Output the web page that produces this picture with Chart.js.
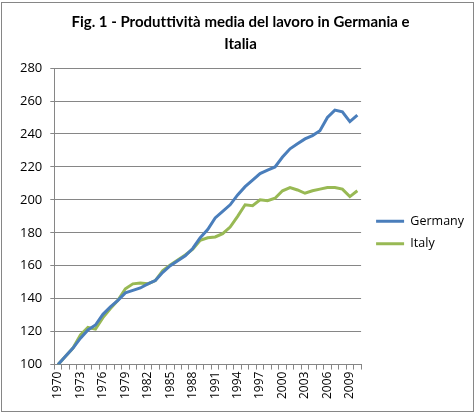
<!DOCTYPE html>
<html>
<head>
<meta charset="utf-8">
<script src="https://cdn.jsdelivr.net/npm/chart.js@4.4.1/dist/chart.umd.min.js"></script>
<style>
  html, body { margin: 0; padding: 0; background: #fff; }
  #wrap { position: relative; width: 476px; height: 413px; }
  #frame { position: absolute; left: 1px; top: 2px; width: 471px; height: 408px;
           border: 1px solid #868686; pointer-events: none; }
</style>
</head>
<body>
<div id="wrap">
  <canvas id="chart" width="476" height="413"></canvas>
  <div id="frame"></div>
</div>
<script>
// anni 1970-2010
const years = [];
for (let y = 1970; y <= 2010; y++) years.push(String(y));

// valori (1970 = 100)
const germany = [
  100, 105, 110, 116, 121, 124, 130.5, 135, 139, 143.5,
  145, 146.5, 149, 151, 156, 160, 163, 166, 170.5, 177,
  182, 189, 193, 197, 203, 208, 212, 216, 218, 220,
  226, 231, 234, 237, 239, 242, 250, 254.5, 253.5, 247.5,
  251.5
];
const italy = [
  100, 105, 110, 118, 122.5, 121.5, 128.5, 134, 139, 146,
  149, 149.5, 149, 151, 157, 160.5, 163.5, 166.5, 170, 175.5,
  177, 177.5, 179.5, 183.5, 190, 197, 196.5, 200, 199.5, 201,
  205.5, 207.5, 206, 204, 205.5, 206.5, 207.5, 207.5, 206.5, 202,
  205.5
];

// \u200C evita la legatura "tt" di Lato
const titleLines = ['Fig. 1 - Produt\u200Ctività media del lavoro in Germania e', 'Italia'];

Chart.defaults.font.family = '"Open Sans", sans-serif';
Chart.defaults.color = '#000';

// sposta la legenda come in Excel (più a destra e più in basso)
const legendShift = {
  id: 'legendShift',
  afterLayout(chart) {
    const lg = chart.legend;
    lg.left += 5; lg.right += 5;
    lg.top += 30; lg.bottom += 30;
  }
};

const ctx = document.getElementById('chart');

new Chart(ctx, {
  type: 'line',
  data: {
    labels: years,
    datasets: [{
      label: 'Germany',
      data: germany,
      borderColor: '#4A7EBB',
      backgroundColor: '#4A7EBB',
      borderWidth: 3,
      pointRadius: 0,
      tension: 0
    }, {
      label: 'Italy',
      data: italy,
      borderColor: '#98B954',
      backgroundColor: '#98B954',
      borderWidth: 3,
      pointRadius: 0,
      tension: 0
    }]
  },
  plugins: [legendShift],
  options: {
    responsive: false,
    animation: false,
    layout: { padding: { left: 12, right: 7, top: 4, bottom: 12 } },
    plugins: {
      title: {
        display: true,
        text: titleLines,
        font: { family: 'Lato, sans-serif', size: 15, weight: 'bold', lineHeight: 1.47 },
        padding: { top: 7, bottom: 13 }
      },
      legend: {
        position: 'right',
        labels: {
          boxWidth: 28,
          boxHeight: 3,
          padding: 10,
          font: { size: 12.5 },
          generateLabels: (chart) =>
            Chart.defaults.plugins.legend.labels.generateLabels(chart)
              .map(l => Object.assign(l, { lineWidth: 0 }))
        }
      },
      tooltip: { enabled: false }
    },
    scales: {
      x: {
        offset: true,
        grid: {
          display: true,
          offset: true,
          drawOnChartArea: false,
          color: '#868686',
          tickLength: 5
        },
        border: { color: '#868686' },
        ticks: {
          autoSkip: false,
          minRotation: 90,
          maxRotation: 90,
          padding: 2,
          font: { size: 12 },
          callback: function (val, i) { return i % 3 === 0 ? this.getLabelForValue(val) : ''; }
        }
      },
      y: {
        min: 100,
        max: 280,
        ticks: { stepSize: 20, padding: 8, font: { size: 13 } },
        grid: { color: '#868686', tickLength: 4 },
        border: { color: '#868686' }
      }
    }
  }
});
</script>
</body>
</html>
